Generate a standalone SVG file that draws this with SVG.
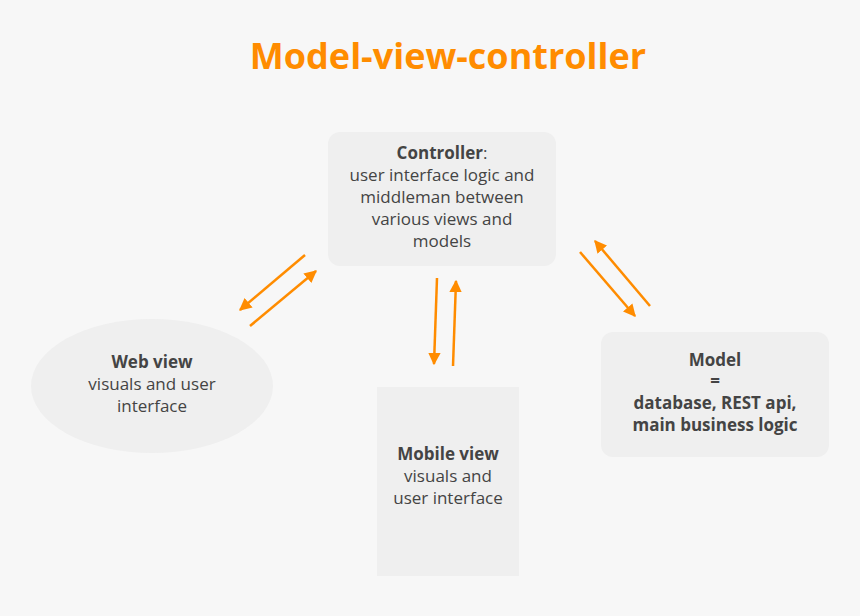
<svg xmlns="http://www.w3.org/2000/svg" width="860" height="616" viewBox="0 0 860 616">
<style>
.n{fill:#efefef}
.t{font-family:"Open Sans","Liberation Sans",sans-serif;font-size:17px;fill:#444;text-anchor:middle}
.b{font-weight:bold}
.c line{stroke:#ff8c00;stroke-width:2.5;marker-end:url(#a)}
</style>
<defs><marker id="a" viewBox="0 0 10 10" refX="9" refY="5" markerWidth="5" markerHeight="5" orient="auto" markerUnits="strokeWidth"><path d="M0,0L10,5L0,10z" fill="#ff8c00"/></marker></defs>
<rect width="860" height="616" fill="#f7f7f7"/>
<text x="448" y="69" font-family="Open Sans,Liberation Sans,sans-serif" font-size="36" font-weight="bold" fill="#ff8c00" text-anchor="middle">Model-view-controller</text>
<g id="controller"><rect class="n" x="328" y="132" width="228" height="134" rx="12"/>
<text class="t" x="442" y="159"><tspan class="b">Controller</tspan>:</text>
<text class="t" x="442" y="181">user interface logic and</text>
<text class="t" x="442" y="203">middleman between</text>
<text class="t" x="442" y="225">various views and</text>
<text class="t" x="442" y="247">models</text></g>
<g id="web"><ellipse class="n" cx="152" cy="386" rx="121" ry="67"/>
<text class="t b" x="152" y="368">Web view</text>
<text class="t" x="152" y="390">visuals and user</text>
<text class="t" x="152" y="412">interface</text></g>
<g id="mobile"><rect class="n" x="377" y="387" width="142" height="189"/>
<text class="t b" x="448" y="460">Mobile view</text>
<text class="t" x="448" y="482">visuals and</text>
<text class="t" x="448" y="504">user interface</text></g>
<g id="model"><rect class="n" x="601" y="332" width="228" height="125" rx="12"/>
<text class="t b" x="715" y="366">Model</text>
<text class="t b" x="715" y="387">=</text>
<text class="t b" x="715" y="409">database, REST api,</text>
<text class="t b" x="715" y="431">main business logic</text></g>
<g class="c">
<line x1="305" y1="255" x2="240" y2="310"/>
<line x1="250" y1="326" x2="316" y2="271"/>
<line x1="437" y1="278" x2="434" y2="364"/>
<line x1="453" y1="366" x2="456" y2="281"/>
<line x1="580" y1="252" x2="635" y2="316"/>
<line x1="650" y1="306" x2="595" y2="241"/>
</g>
</svg>
